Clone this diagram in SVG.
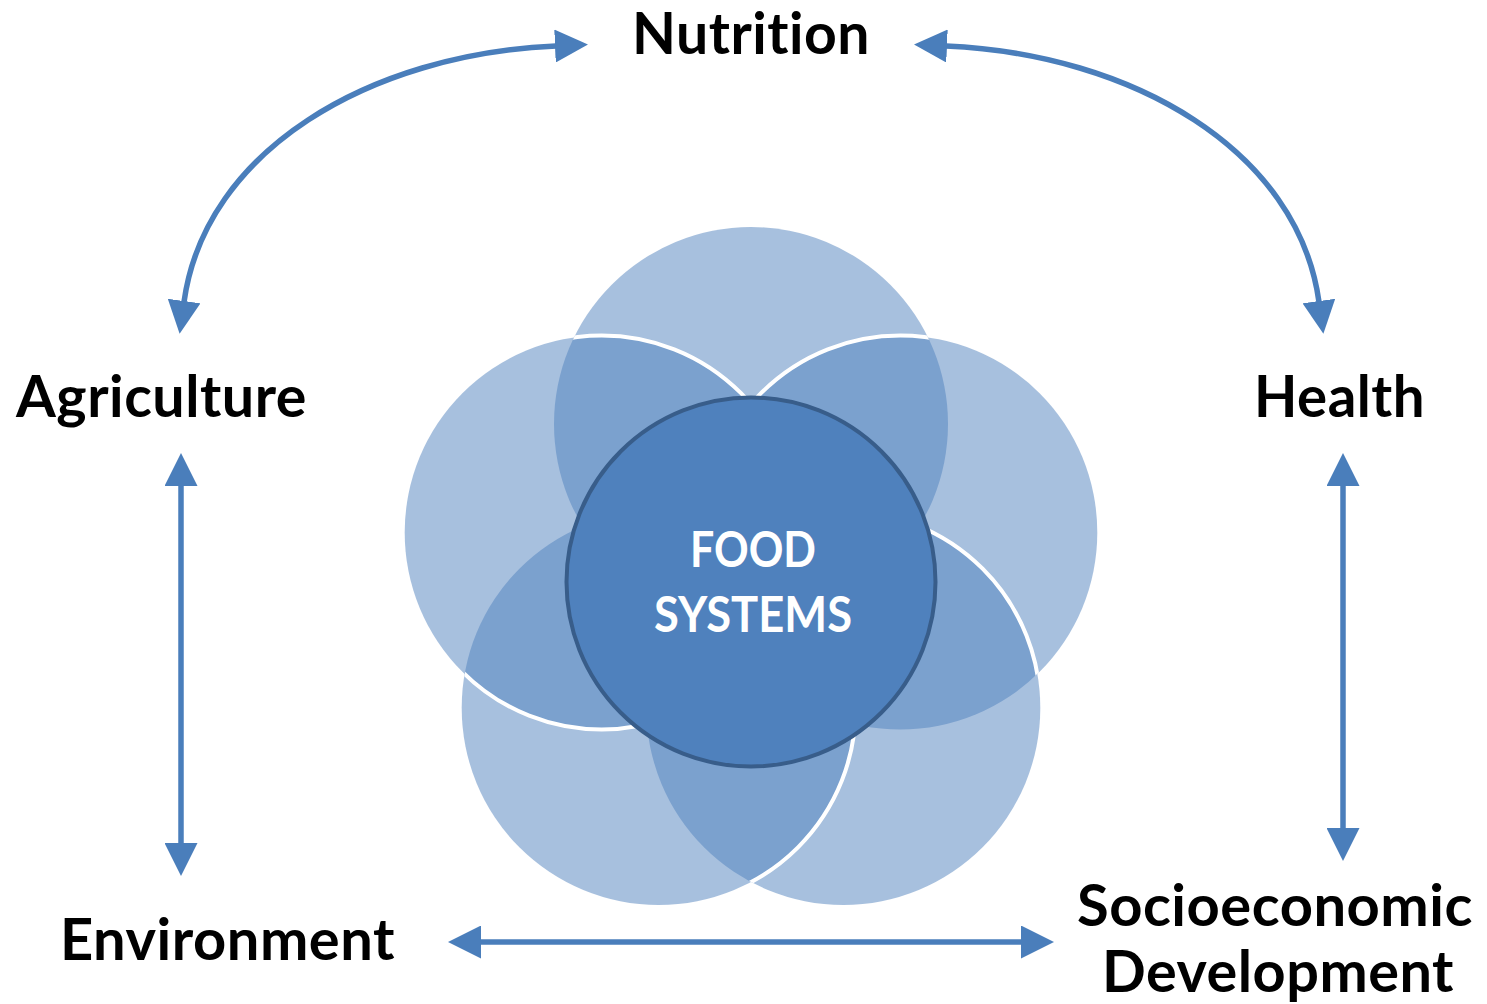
<svg xmlns="http://www.w3.org/2000/svg" width="1487" height="1004" viewBox="0 0 1487 1004">
  <style>
    .lbl { font-family: Lato, "Open Sans", "Liberation Sans", sans-serif; font-weight: 700; fill: #000; font-size: 57px; font-variant-ligatures: none; font-feature-settings: "liga" 0, "clig" 0, "dlig" 0, "calt" 0; letter-spacing: 0.5px; }
    .ctr { font-family: Lato, "Open Sans", "Liberation Sans", sans-serif; font-weight: 700; fill: #fff; font-size: 49px; font-variant-ligatures: none; }
    .petal { fill: #4F81BD; fill-opacity: 0.5; }
    .edge { fill: none; stroke: #fff; stroke-width: 4; }
    .conn { fill: none; stroke: #4A7EBB; stroke-width: 5.5; marker-start: url(#ah); marker-end: url(#ah); }
  </style>
  <defs>
    <marker id="ah" markerUnits="userSpaceOnUse" viewBox="0 0 33 33" markerWidth="33" markerHeight="33" refX="1" refY="16.5" orient="auto-start-reverse">
      <path d="M0,0 L33,16.5 L0,33 Z" fill="#4A7EBB"/>
    </marker>
    <clipPath id="cTop"><circle cx="751" cy="424" r="197"/></clipPath>
    <clipPath id="cRight"><circle cx="900.3" cy="532.5" r="197"/></clipPath>
    <clipPath id="cBR"><circle cx="843.3" cy="708" r="197"/></clipPath>
    <clipPath id="cTopBL"><circle cx="751" cy="424" r="197"/><circle cx="658.7" cy="708" r="197"/></clipPath>
  </defs>

  <g id="food-systems">
    <circle class="petal" cx="751" cy="424" r="197"/>
    <circle class="petal" cx="900.3" cy="532.5" r="197"/>
    <circle class="petal" cx="843.3" cy="708" r="197"/>
    <circle class="petal" cx="658.7" cy="708" r="197"/>
    <circle class="petal" cx="601.7" cy="532.5" r="197"/>
    <circle class="edge" cx="900.3" cy="532.5" r="197" clip-path="url(#cTop)"/>
    <circle class="edge" cx="843.3" cy="708" r="197" clip-path="url(#cRight)"/>
    <circle class="edge" cx="658.7" cy="708" r="197" clip-path="url(#cBR)"/>
    <circle class="edge" cx="601.7" cy="532.5" r="197" clip-path="url(#cTopBL)"/>
    <circle cx="751" cy="582" r="184.5" fill="#4F81BD" stroke="#385D8A" stroke-width="4"/>
    <text class="ctr" x="690" y="567" textLength="126" lengthAdjust="spacingAndGlyphs">FOOD</text>
    <text class="ctr" x="654" y="632" textLength="198" lengthAdjust="spacingAndGlyphs">SYSTEMS</text>
  </g>

  <g id="connectors">
    <path class="conn" d="M556,46 C370,54 205,150 184,302"/>
    <path class="conn" d="M946,46 C1132,54 1298,150 1319,302"/>
    <path class="conn" d="M181,485 L181,844"/>
    <path class="conn" d="M1343,485 L1343,829"/>
    <path class="conn" d="M480,942 L1022,942"/>
  </g>

  <g id="nutrition"><text class="lbl" x="632" y="54" textLength="238" lengthAdjust="spacingAndGlyphs">Nutrition</text></g>
  <g id="agriculture"><text class="lbl" x="16" y="417" textLength="291" lengthAdjust="spacingAndGlyphs">Agriculture</text></g>
  <g id="health"><text class="lbl" x="1254" y="417" textLength="171" lengthAdjust="spacingAndGlyphs">Health</text></g>
  <g id="environment"><text class="lbl" x="60" y="960" textLength="335" lengthAdjust="spacingAndGlyphs">Environment</text></g>
  <g id="socioeconomic-development">
    <text class="lbl" x="1077" y="926" textLength="396" lengthAdjust="spacingAndGlyphs">Socioeconomic</text>
    <text class="lbl" x="1102" y="992" textLength="352" lengthAdjust="spacingAndGlyphs">Development</text>
  </g>
</svg>
